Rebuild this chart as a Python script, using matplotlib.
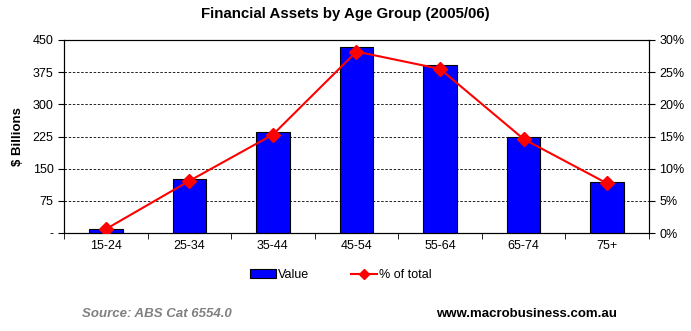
import numpy as np
import matplotlib.pyplot as plt
from matplotlib.ticker import FuncFormatter

plt.rcParams['font.family'] = ['Liberation Sans', 'DejaVu Sans']

# data
ages = ["15-24", "25-34", "35-44", "45-54", "55-64", "65-74", "75+"]
value = [9, 125, 235, 433, 392, 225, 118]          # $ billions
pct_total = [0.6, 8.1, 15.3, 28.2, 25.5, 14.6, 7.7]  # % of total

fig = plt.figure(figsize=(6.91, 3.31), dpi=100)
ax = fig.add_axes([64 / 691, 1 - 233 / 331, 585 / 691, 193 / 331])
x = np.arange(len(ages))

ax.bar(x, value, width=0.4, color="#0000ff", edgecolor="black", linewidth=0.8,
       zorder=3, label="Value")
ax.set_xlim(-0.5, len(ages) - 0.5)
ax.set_ylim(0, 450)
ax.set_yticks(np.arange(0, 451, 75))
ax.yaxis.set_major_formatter(FuncFormatter(lambda v, p: "-" if v == 0 else f"{v:.0f}"))
ax.grid(axis="y", color="black", linestyle=(0, (3, 2)), linewidth=0.6, zorder=0)
ax.set_xticks(x)
ax.set_xticklabels(ages)
ax.set_xticks(np.arange(-0.5, len(ages), 1), minor=True)
ax.tick_params(axis="x", which="major", length=0, pad=5, labelsize=9)
ax.tick_params(axis="x", which="minor", length=4, direction="out")
ax.tick_params(axis="y", length=4, direction="out", labelsize=9)
ax.set_ylabel("$ Billions", fontsize=9.5, fontweight="bold", labelpad=6)

ax2 = ax.twinx()
ax2.plot(x, pct_total, color="#ff0000", linewidth=1.5, marker="D", markersize=7,
         zorder=4, label="% of total")
ax2.set_ylim(0, 30)
ax2.set_yticks(np.arange(0, 31, 5))
ax2.yaxis.set_major_formatter(FuncFormatter(lambda v, p: f"{v:.0f}%"))
ax2.tick_params(axis="y", length=4, direction="out", labelsize=9)

for a in (ax, ax2):
    for s in a.spines.values():
        s.set_linewidth(0.8)

fig.text(345 / 691, 1 - 14 / 331, "Financial Assets by Age Group (2005/06)",
         ha="center", va="center", fontsize=10.8, fontweight="bold")

h1, l1 = ax.get_legend_handles_labels()
h2, l2 = ax2.get_legend_handles_labels()
fig.legend(h1 + h2, l1 + l2, loc="center left", bbox_to_anchor=(250 / 691, 1 - 275 / 331),
           ncol=2, frameon=False, fontsize=9, handlelength=2.1, handletextpad=0.1,
           columnspacing=3.4, borderpad=0, borderaxespad=0, markerscale=0.7)

fig.text(82 / 691, 1 - 314 / 331, "Source: ABS Cat 6554.0", ha="left", va="center",
         fontsize=9.5, fontstyle="italic", fontweight="bold", color="#808080")
fig.text(436 / 691, 1 - 314 / 331, "www.macrobusiness.com.au", ha="left", va="center",
         fontsize=9.5, fontweight="bold", color="black")

fig.savefig("out.png", dpi=100)
